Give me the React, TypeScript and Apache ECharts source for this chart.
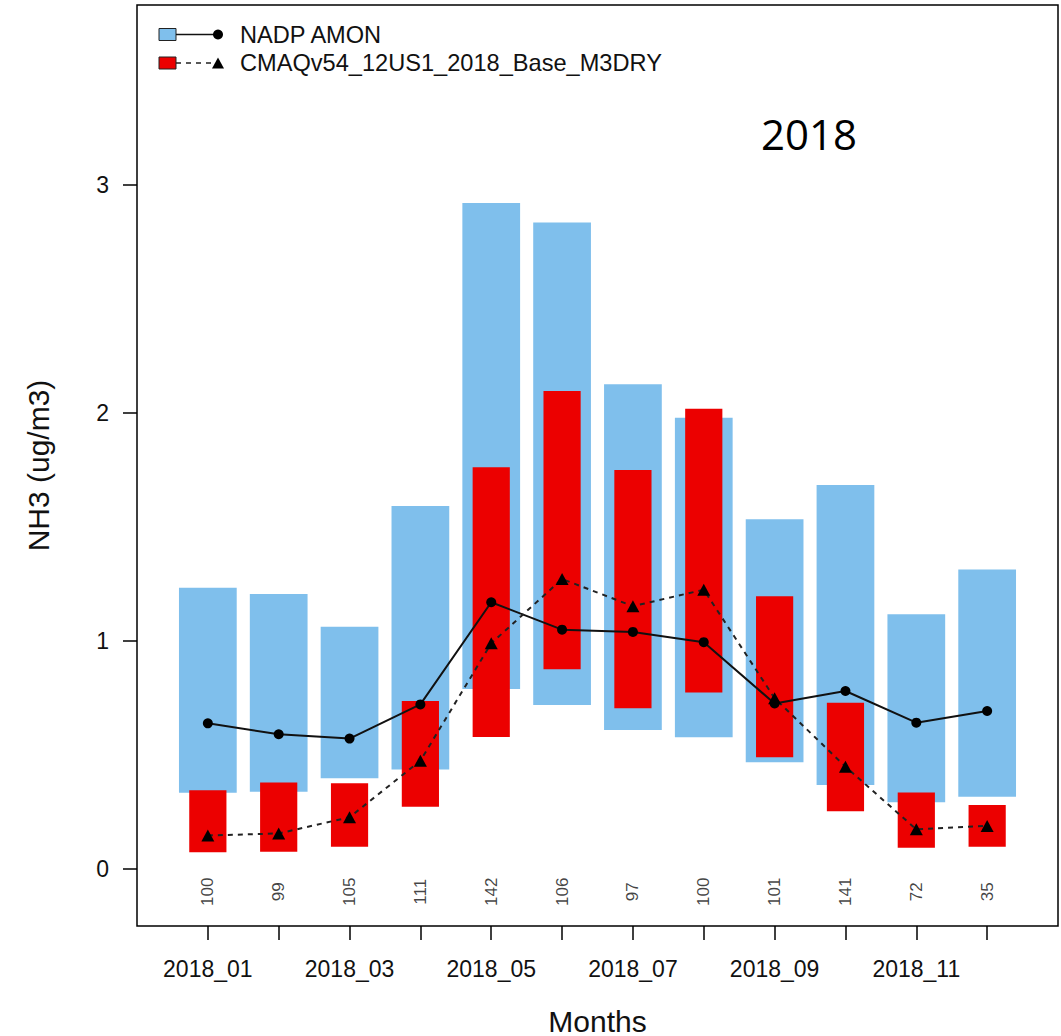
import React, { useEffect, useRef } from "react";
import * as echarts from "echarts";

// Monthly NH3 concentrations: observed (NADP AMON) vs. modelled (CMAQ)
const months = [
  "2018_01", "2018_02", "2018_03", "2018_04", "2018_05", "2018_06",
  "2018_07", "2018_08", "2018_09", "2018_10", "2018_11", "2018_12",
];
const monthIndex = [1, 2, 3, 4, 5, 6, 7, 8, 9, 10, 11, 12];
const labelledMonths = [1, 3, 5, 7, 9, 11];
const yTicks = [0, 1, 2, 3];

// Interquartile-style ranges (boxes)
const nadpLow = [0.335, 0.339, 0.398, 0.437, 0.79, 0.719, 0.61, 0.578, 0.468, 0.368, 0.293, 0.317];
const nadpHigh = [1.234, 1.206, 1.063, 1.592, 2.921, 2.836, 2.126, 1.98, 1.534, 1.684, 1.117, 1.314];
const cmaqLow = [0.073, 0.076, 0.098, 0.273, 0.579, 0.876, 0.705, 0.774, 0.49, 0.253, 0.093, 0.098];
const cmaqHigh = [0.346, 0.379, 0.376, 0.737, 1.762, 2.097, 1.75, 2.019, 1.197, 0.729, 0.336, 0.281];

// Central values (lines)
const nadpMean = [0.639, 0.591, 0.572, 0.722, 1.17, 1.05, 1.04, 0.995, 0.726, 0.781, 0.642, 0.693];
const cmaqMean = [0.147, 0.156, 0.227, 0.475, 0.99, 1.272, 1.153, 1.225, 0.749, 0.449, 0.174, 0.189];

// Number of site observations per month
const counts = [100, 99, 105, 111, 142, 106, 97, 100, 101, 141, 72, 35];
const countLabelY = -0.1;

const BLUE = "#7FBFEC";
const RED = "#EC0000";
const FONT = "'Liberation Sans', Arial, Helvetica, sans-serif";

const boxSeries = (name: string, low: number[], high: number[], width: number, color: string, z: number) => ({
  type: "custom",
  name,
  z,
  data: monthIndex.map((m, i) => [m, low[i], high[i]]),
  encode: { x: 0, y: [1, 2] },
  renderItem: (_params: any, api: any) => {
    const x = api.value(0);
    const top = api.coord([x, api.value(2)]);
    const bottom = api.coord([x, api.value(1)]);
    const w = api.size([width, 0])[0];
    return {
      type: "rect",
      shape: { x: top[0] - w / 2, y: top[1], width: w, height: bottom[1] - top[1] },
      style: { fill: color },
    };
  },
});

export default function App() {
  const ref = useRef<HTMLDivElement>(null);

  useEffect(() => {
    if (!ref.current) return;
    const chart = echarts.init(ref.current, null, { renderer: "svg" });

    const option = {
      animation: false,
      backgroundColor: "#ffffff",
      grid: {
        left: 137,
        right: 3,
        top: 5,
        bottom: 110,
        outerBoundsMode: "none",
        show: true,
        borderColor: "#000",
        borderWidth: 1.5,
        backgroundColor: "transparent",
      },
      xAxis: {
        type: "value",
        min: 0,
        max: 13,
        name: "Months",
        nameLocation: "middle",
        nameGap: 80,
        nameTextStyle: { fontSize: 30, fontFamily: FONT, color: "#111" },
        axisLine: { show: false, onZero: false },
        splitLine: { show: false },
        axisTick: {
          show: true,
          length: 14,
          customValues: monthIndex,
          lineStyle: { color: "#000", width: 1.5 },
        },
        axisLabel: {
          customValues: labelledMonths,
          formatter: (v: number) => months[v - 1] ?? "",
          fontSize: 23,
          fontFamily: FONT,
          color: "#111",
          margin: 31,
        },
      },
      yAxis: {
        type: "value",
        min: -0.25,
        max: 3.79,
        name: "NH3 (ug/m3)",
        nameLocation: "middle",
        nameGap: 84,
        nameTextStyle: { fontSize: 30, fontFamily: FONT, color: "#111" },
        axisLine: { show: false, onZero: false },
        splitLine: { show: false },
        axisTick: {
          show: true,
          length: 14,
          customValues: yTicks,
          lineStyle: { color: "#000", width: 1.5 },
        },
        axisLabel: {
          customValues: yTicks,
          fontSize: 23,
          fontFamily: FONT,
          color: "#111",
          margin: 28,
        },
      },
      series: [
        boxSeries("NADP AMON", nadpLow, nadpHigh, 0.815, BLUE, 1),
        boxSeries("CMAQv54_12US1_2018_Base_M3DRY", cmaqLow, cmaqHigh, 0.525, RED, 2),
        {
          type: "line",
          name: "NADP AMON mean",
          z: 4,
          data: monthIndex.map((m, i) => [m, nadpMean[i]]),
          symbol: "circle",
          symbolSize: 10,
          itemStyle: { color: "#000" },
          lineStyle: { color: "#111", width: 2 },
        },
        {
          type: "line",
          name: "CMAQ mean",
          z: 4,
          data: monthIndex.map((m, i) => [m, cmaqMean[i]]),
          symbol: "triangle",
          symbolSize: [13, 12],
          itemStyle: { color: "#000" },
          lineStyle: { color: "#222", width: 2, type: [5, 5] },
        },
        {
          type: "scatter",
          name: "counts",
          z: 5,
          symbolSize: 0,
          data: monthIndex.map((m, i) => [m, countLabelY, counts[i]]),
          label: {
            show: true,
            position: "inside",
            rotate: 90,
            formatter: (p: any) => String(p.value[2]),
            fontSize: 17,
            fontFamily: FONT,
            color: "#111",
          },
        },
      ],
      graphic: [
        // legend row 1
        {
          type: "rect",
          shape: { x: 159, y: 28.5, width: 17, height: 12 },
          style: { fill: BLUE, stroke: "#222", lineWidth: 1 },
        },
        {
          type: "line",
          shape: { x1: 176, y1: 34.5, x2: 218, y2: 34.5 },
          style: { stroke: "#111", lineWidth: 1.5 },
        },
        { type: "circle", shape: { cx: 218, cy: 34.5, r: 5 }, style: { fill: "#000" } },
        {
          type: "text",
          x: 240,
          y: 34.5,
          style: {
            text: "NADP AMON",
            fontSize: 23.6,
            fontFamily: FONT,
            fill: "#111",
            verticalAlign: "middle",
          },
        },
        // legend row 2
        {
          type: "rect",
          shape: { x: 159, y: 57, width: 17, height: 12 },
          style: { fill: RED, stroke: "#222", lineWidth: 1 },
        },
        {
          type: "line",
          shape: { x1: 176, y1: 63, x2: 212, y2: 63 },
          style: { stroke: "#222", lineWidth: 1.5, lineDash: [5, 5] },
        },
        {
          type: "polygon",
          shape: { points: [[212, 68.5], [224, 68.5], [218, 57.5]] },
          style: { fill: "#000" },
        },
        {
          type: "text",
          x: 240,
          y: 63,
          style: {
            text: "CMAQv54_12US1_2018_Base_M3DRY",
            fontSize: 23.6,
            fontFamily: FONT,
            fill: "#111",
            verticalAlign: "middle",
          },
        },
        // year annotation
        {
          type: "text",
          x: 761,
          y: 133,
          style: {
            text: "2018",
            fontSize: 42,
            fontFamily: "'Open Sans', 'Noto Sans', sans-serif",
            fill: "#000",
            verticalAlign: "middle",
          },
        },
      ],
    };

    chart.setOption(option as any);
    return () => chart.dispose();
  }, []);

  return (
    <div
      ref={ref}
      style={{ position: "fixed", left: 0, top: 0, width: 1061, height: 1036, background: "#fff" }}
    />
  );
}
